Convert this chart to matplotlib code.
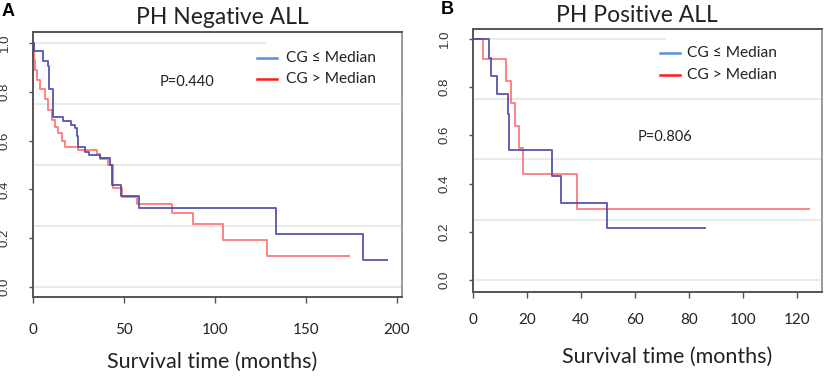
import matplotlib
matplotlib.use("Agg")
import matplotlib.pyplot as plt

# ---------------- data ----------------
# Panel A: PH Negative ALL
a_low_t = [0, 0.7, 5.5, 8, 9, 11.2, 16.3, 20.9, 23, 24.3, 24.9, 28.5, 31, 36.8, 42.3, 43.2, 48.1, 58.4, 133.4, 181.4, 194.7]
a_low_s = [1.0, 0.967, 0.926, 0.907, 0.81, 0.697, 0.68, 0.664, 0.65, 0.62, 0.575, 0.555, 0.54, 0.53, 0.50, 0.418, 0.373, 0.322, 0.217, 0.11, 0.11]
a_high_t = [0, 0.5, 1.1, 2.0, 3.8, 6.6, 8.4, 10.3, 12.1, 13.9, 15.7, 17.6, 24.9, 35, 36.7, 41, 44.1, 48.7, 56.9, 76.1, 87.7, 104.1, 128.3, 173.5]
a_high_s = [1.0, 0.93, 0.89, 0.85, 0.81, 0.77, 0.725, 0.684, 0.657, 0.63, 0.60, 0.575, 0.56, 0.545, 0.523, 0.50, 0.405, 0.368, 0.34, 0.302, 0.257, 0.193, 0.128, 0.128]
a_p = "P=0.440"

# Panel B: PH Positive ALL
b_low_t = [0, 6.0, 6.7, 9.0, 12.8, 13.3, 29.1, 32.6, 49.7, 85.9]
b_low_s = [1.0, 0.92, 0.846, 0.77, 0.69, 0.537, 0.43, 0.32, 0.215, 0.215]
b_high_t = [0, 3.6, 12.1, 14.0, 15.7, 17.0, 18.4, 38.6, 124.4]
b_high_s = [1.0, 0.917, 0.826, 0.733, 0.64, 0.549, 0.44, 0.293, 0.293]
b_p = "P=0.806"

titles = ["PH Negative ALL", "PH Positive ALL"]
letters = ["A", "B"]
legend_labels = ["CG \u2264 Median", "CG > Median"]
xlabel = "Survival time (months)"
yticks = [0.0, 0.2, 0.4, 0.6, 0.8, 1.0]
grid_levels = [0.0, 0.25, 0.5, 0.75, 1.0]
a_xticks = [0, 50, 100, 150, 200]
b_xticks = [0, 20, 40, 60, 80, 100, 120]

# ---------------- style ----------------
W, H = 827, 377
fig = plt.figure(figsize=(W / 100, H / 100), dpi=100)
fig.patch.set_facecolor("white")

def rect(l, t, r, b):
    return [l / W, 1 - b / H, (r - l) / W, (b - t) / H]

def fx(px):
    return px / W

def fy(py):
    return 1 - py / H

SANS = ["Lato", "DejaVu Sans"]
RFONT = ["Liberation Sans", "DejaVu Sans"]
BLUE = "#4646a8"
RED = "#ff5a5a"
LEG_BLUE = "#5b8fd6"
LEG_RED = "#ff1a1a"

panels = [
    dict(rect=rect(33, 32, 402, 297), xlim=(0, 202.7), ylim=(-0.041, 1.045),
         xticks=a_xticks, low=(a_low_t, a_low_s), high=(a_high_t, a_high_s),
         p=a_p, top_grid_end=265, xpad=14.5),
    dict(rect=rect(473, 29, 822, 292), xlim=(0, 129.3), ylim=(-0.05, 1.041),
         xticks=b_xticks, low=(b_low_t, b_low_s), high=(b_high_t, b_high_s),
         p=b_p, top_grid_end=665, xpad=11),
]

axes = []
for i, pd_ in enumerate(panels):
    ax = fig.add_axes(pd_["rect"])
    axes.append(ax)
    ax.set_xlim(*pd_["xlim"])
    ax.set_ylim(*pd_["ylim"])
    ax.set_facecolor("white")
    # gridlines
    l_px = pd_["rect"][0] * W
    w_px = pd_["rect"][2] * W
    for g in grid_levels:
        if g == 1.0:
            ax.axhline(g, xmin=0, xmax=(pd_["top_grid_end"] - l_px) / w_px,
                       color="#e8e8e8", lw=1.3, zorder=0)
        else:
            ax.axhline(g, color="#e8e8e8", lw=1.3, zorder=0)
    # curves
    ax.step(pd_["low"][0], pd_["low"][1], where="post", color=BLUE, lw=1.4, alpha=0.85, zorder=3)
    ax.step(pd_["high"][0], pd_["high"][1], where="post", color=RED, lw=1.4, alpha=0.75, zorder=2)
    # spines
    for s in ["left", "bottom", "top"]:
        ax.spines[s].set_color("#555555")
        ax.spines[s].set_linewidth(1.4)
    ax.spines["right"].set_color("#8a8a8a")
    ax.spines["right"].set_linewidth(1.2)
    # ticks
    ax.set_yticks(yticks)
    ax.set_yticklabels(["%.1f" % v for v in yticks], rotation=90, va="center",
                       family=RFONT, fontsize=9.5, color="#333333")
    ax.set_xticks(pd_["xticks"])
    ax.set_xticklabels([str(v) for v in pd_["xticks"]], family=SANS, fontsize=11, color="#222222")
    ax.tick_params(axis="y", length=3, width=1, color="#555555", pad=13)
    ax.tick_params(axis="x", length=4, width=1, color="#555555", pad=pd_["xpad"])

# axis labels
fig.text(fx(212), fy(362), xlabel, family=SANS, fontsize=15.5, ha="center", va="center", color="#222222")
fig.text(fx(667), fy(357), xlabel, family=SANS, fontsize=15.5, ha="center", va="center", color="#222222")

# titles and letters
fig.text(fx(222), fy(18), titles[0], family=SANS, fontsize=16.5, ha="center", va="center", color="#222222")
fig.text(fx(637), fy(15), titles[1], family=SANS, fontsize=16.5, ha="center", va="center", color="#222222")
fig.text(fx(2), fy(11), letters[0], family=RFONT, fontsize=13, fontweight="bold", ha="left", va="center")
fig.text(fx(441), fy(10), letters[1], family=RFONT, fontsize=13, fontweight="bold", ha="left", va="center")

# p values
fig.text(fx(160), fy(82), panels[0]["p"], family=SANS, fontsize=10.5, ha="left", va="center", color="#222222")
fig.text(fx(638), fy(137), panels[1]["p"], family=SANS, fontsize=10.5, ha="left", va="center", color="#222222")

# legends (manual)
leg_pos = [(257, 286, 58, 79), (660, 687, 53, 75)]
for (x0, xt, y1, y2) in leg_pos:
    for yy, c, lab in [(y1, LEG_BLUE, legend_labels[0]), (y2, LEG_RED, legend_labels[1])]:
        fig.add_artist(plt.Line2D([fx(x0), fx(x0 + 20)], [fy(yy), fy(yy)], color=c, lw=1.8))
        fig.text(fx(xt), fy(yy), lab, family=SANS, fontsize=11.2, ha="left", va="center", color="#222222")

fig.savefig("out.png", dpi=100, facecolor="white")
